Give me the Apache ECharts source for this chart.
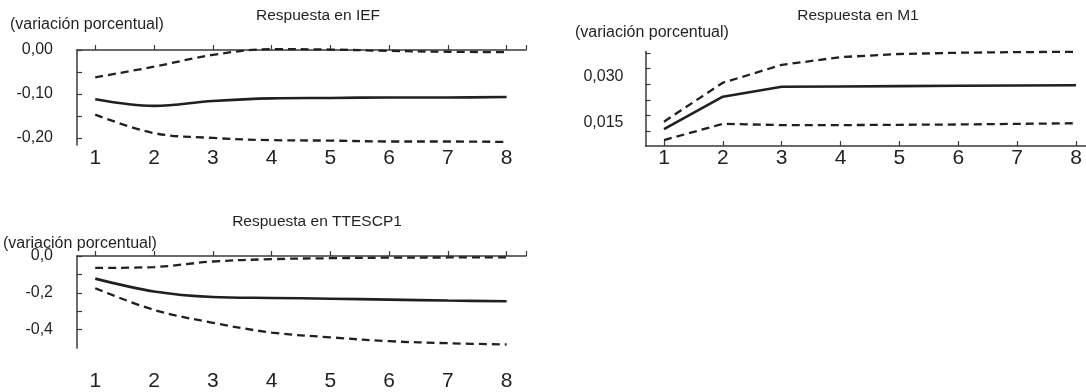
<!DOCTYPE html>
<html>
<head>
<meta charset="utf-8">
<script src="https://cdn.jsdelivr.net/npm/echarts@6/dist/echarts.min.js"></script>
<style>
html,body{margin:0;padding:0;background:#fff;}
#chart{width:1086px;height:392px;}
</style>
</head>
<body>
<div id="chart"></div>
<script>
// ---- data ----
const periods = [1, 2, 3, 4, 5, 6, 7, 8];

const iefResp  = [-0.112, -0.127, -0.116, -0.110, -0.109, -0.108, -0.108, -0.107];
const iefUpper = [-0.062, -0.038, -0.011, 0.002, 0.001, -0.002, -0.004, -0.005];
const iefLower = [-0.147, -0.189, -0.200, -0.205, -0.206, -0.208, -0.208, -0.209];

const m1Resp  = [0.0156, 0.0260, 0.0292, 0.0293, 0.0294, 0.0295, 0.0296, 0.0297];
const m1Upper = [0.0180, 0.0305, 0.0362, 0.0387, 0.0397, 0.0401, 0.0403, 0.0404];
const m1Lower = [0.0121, 0.0173, 0.0169, 0.0169, 0.0170, 0.0171, 0.0173, 0.0175];

const ttResp  = [-0.123, -0.193, -0.223, -0.228, -0.232, -0.237, -0.242, -0.246];
const ttUpper = [-0.065, -0.060, -0.030, -0.017, -0.012, -0.009, -0.008, -0.007];
const ttLower = [-0.175, -0.293, -0.363, -0.416, -0.442, -0.463, -0.474, -0.481];

const iefTicks  = [0, -0.05, -0.10, -0.15, -0.20];
const iefLabels = [0, -0.10, -0.20];
const m1Ticks   = [0.015, 0.020, 0.025, 0.030, 0.035, 0.040];
const m1Labels  = [0.015, 0.030];
const ttTicks   = [0, -0.1, -0.2, -0.3, -0.4];
const ttLabels  = [0, -0.2, -0.4];

const titles = ['Respuesta en IEF', 'Respuesta en M1', 'Respuesta en TTESCP1'];
const unitLabel = '(variación porcentual)';

// ---- chart ----
const INK = '#231f20';
const AXIS = '#3a3a3a';
const FONT = '"Liberation Sans", Arial, sans-serif';

const pairs = vals => periods.map((p, i) => [p, vals[i]]);
const fmt = d => v => v.toFixed(d).replace('.', ',');

function xAxisFor(gi, min, max, margin, endTick) {
  return {
    type: 'value', gridIndex: gi, min: min, max: max,
    splitLine: {show: false},
    axisLine: {lineStyle: {color: AXIS, width: 1.5}},
    axisTick: {inside: true, length: 5, customValues: endTick ? periods.concat([max]) : periods,
               lineStyle: {color: AXIS, width: 1.2}},
    axisLabel: {customValues: periods, margin: margin, color: INK, fontFamily: FONT, fontSize: 21,
                formatter: v => String(v)}
  };
}
function yAxisFor(gi, min, max, ticks, labels, dec, extra) {
  return {
    type: 'value', gridIndex: gi, min: min, max: max,
    splitLine: {show: false},
    axisLine: {show: true, lineStyle: {color: AXIS, width: 1.5}},
    axisTick: {show: true, inside: true, length: 5, customValues: ticks, lineStyle: {color: AXIS, width: 1.2}},
    axisLabel: Object.assign({customValues: labels, margin: 24, color: INK, fontFamily: FONT, fontSize: 16,
                formatter: fmt(dec)}, extra || {})
  };
}
function lineSeries(gi, vals, dashed, smooth) {
  return {
    type: 'line', xAxisIndex: gi, yAxisIndex: gi, data: pairs(vals),
    showSymbol: false, symbol: 'none', smooth: smooth, clip: false, silent: true,
    lineStyle: {color: INK, width: dashed ? 2.3 : 2.6, type: dashed ? [8, 5] : 'solid'}
  };
}

const chart = echarts.init(document.getElementById('chart'), null, {renderer: 'canvas'});
chart.setOption({
  animation: false,
  backgroundColor: '#fff',
  grid: [
    {left: 77, top: 50, right: 560, bottom: 247},
    {left: 645.5, top: 51.5, right: 0, bottom: 246},
    {left: 77, top: 256, right: 560, bottom: 41}
  ],
  xAxis: [
    xAxisFor(0, 0.69, 8.33, 3, true),
    xAxisFor(1, 0.686, 8.17, 2, false),
    xAxisFor(2, 0.69, 8.33, 23, true)
  ],
  yAxis: [
    yAxisFor(0, -0.216, 0, iefTicks, iefLabels, 2),
    yAxisFor(1, 0.0102, 0.0405, m1Ticks, m1Labels, 3, {margin: 22, verticalAlign: 'bottom'}),
    yAxisFor(2, -0.5, 0, ttTicks, ttLabels, 1)
  ],
  series: [
    lineSeries(0, iefUpper, true, 0.35),
    lineSeries(0, iefLower, true, 0.35),
    lineSeries(0, iefResp, false, 0.35),
    lineSeries(1, m1Upper, true, false),
    lineSeries(1, m1Lower, true, false),
    lineSeries(1, m1Resp, false, false),
    lineSeries(2, ttUpper, true, 0.35),
    lineSeries(2, ttLower, true, 0.35),
    lineSeries(2, ttResp, false, 0.35)
  ],
  graphic: [
    {type: 'text', x: 318, y: 16, style: {text: titles[0], font: '15.5px ' + FONT, fill: INK, textAlign: 'center', textVerticalAlign: 'middle'}},
    {type: 'text', x: 858, y: 16, style: {text: titles[1], font: '15.5px ' + FONT, fill: INK, textAlign: 'center', textVerticalAlign: 'middle'}},
    {type: 'text', x: 317, y: 222, style: {text: titles[2], font: '15.5px ' + FONT, fill: INK, textAlign: 'center', textVerticalAlign: 'middle'}},
    {type: 'text', x: 10, y: 25, style: {text: unitLabel, font: '16px ' + FONT, fill: INK, textAlign: 'left', textVerticalAlign: 'middle'}},
    {type: 'text', x: 575, y: 33, style: {text: unitLabel, font: '16px ' + FONT, fill: INK, textAlign: 'left', textVerticalAlign: 'middle'}},
    {type: 'text', x: 3, y: 244, style: {text: unitLabel, font: '16px ' + FONT, fill: INK, textAlign: 'left', textVerticalAlign: 'middle'}}
  ]
});
</script>
</body>
</html>
